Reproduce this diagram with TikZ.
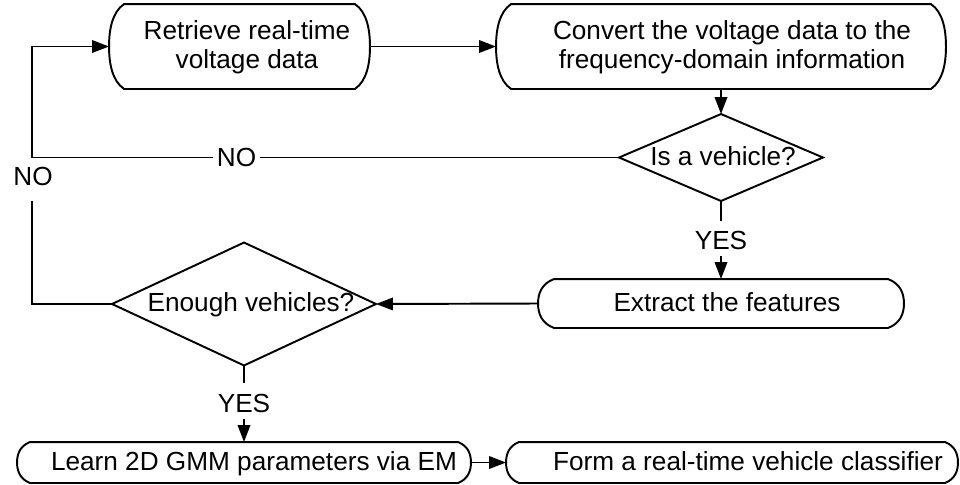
\documentclass[tikz,border=0pt]{standalone}
\usepackage{fontspec}
\setmainfont{Liberation Sans}
\usetikzlibrary{arrows.meta,calc}

% Outline of a terminal box: flat top and bottom, bracket-like curved ends.
% #1 = node name, #2 = horizontal inset of the ends, #3 = box height
\newcommand{\termoutline}[3]{%
  \draw[line join=round]
    ($(#1.north west)+(#2,0)$) -- ($(#1.north east)+(-#2,0)$)
    .. controls ($(#1.north east)+(-0.2*#2,0.1*#3)$) and ($(#1.east)+(0,-0.2*#3)$) .. (#1.east)
    .. controls ($(#1.east)+(0,0.2*#3)$) and ($(#1.south east)+(-0.2*#2,-0.1*#3)$) .. ($(#1.south east)+(-#2,0)$)
    -- ($(#1.south west)+(#2,0)$)
    .. controls ($(#1.south west)+(0.2*#2,-0.1*#3)$) and ($(#1.west)+(0,0.2*#3)$) .. (#1.west)
    .. controls ($(#1.west)+(0,-0.2*#3)$) and ($(#1.north west)+(0.2*#2,0.1*#3)$) .. cycle;}

% Outline of a decision diamond inscribed in its node
\newcommand{\diamondoutline}[1]{%
  \draw (#1.north) -- (#1.east) -- (#1.south) -- (#1.west) -- cycle;}

\begin{document}
\begin{tikzpicture}[x=0.02cm, y=-0.02cm, line width=1.1pt,
  every node/.style={font=\fontsize{14.9}{16.5}\selectfont},
  boxframe/.style 2 args={inner sep=0pt, minimum width={#1*0.02cm}, minimum height={#2*0.02cm}},
  txt/.style={align=center, inner sep=0pt},
  lbl/.style={inner xsep=1.5pt, inner ysep=0pt, anchor=base},
  arr/.style={-{Triangle[length=3.4mm,width=2.5mm]}},
  ]
\useasboundingbox (0,0) rectangle (960,484);

% shape frames
\node[boxframe={259}{83}] (b1) at (239.5,46.5) {};
\node[boxframe={448}{83}] (b2) at (721,46.5) {};
\node[boxframe={202}{85}] (d1) at (721,157.5) {};
\node[boxframe={364}{47}] (e1) at (721,303.5) {};
\node[boxframe={262}{121}] (d2) at (244,304) {};
\node[boxframe={452}{39}] (L) at (244,462.5) {};
\node[boxframe={450}{39}] (F) at (732,462.5) {};

\termoutline{b1}{15}{83}
\termoutline{b2}{15}{83}
\termoutline{e1}{16}{47}
\termoutline{L}{13}{39}
\termoutline{F}{13}{39}
\diamondoutline{d1}
\diamondoutline{d2}

% texts
\node[txt] (t1) at (247,47.5) {Retrieve real-time\\voltage data};
\node[txt] (t2) at (732,47.5) {Convert the voltage data to the\\frequency-domain information};
\node[lbl] (t3) at (723,165) {Is a vehicle?};
\node[lbl] (t4) at (727,311) {Extract the features};
\node[lbl] (t5) at (251,311.5) {Enough vehicles?};
\node[lbl] (t6) at (254,470.5) {Learn 2D GMM parameters via EM};
\node[lbl] (t7) at (748,470.5) {Form a real-time vehicle classifier};

% branch labels
\node[lbl] (noM) at (236.5,166) {NO};
\node[lbl] (noL) at (33,185.5) {NO};
\node[lbl] (yes1) at (721,249) {YES};
\node[lbl] (yes2) at (244,412) {YES};

% free ends of the connectors around the labels
\coordinate (j) at (32,157.5);
\coordinate (jL) at (32,201);
\coordinate (y1a) at (721,221);
\coordinate (y1b) at (721,256);
\coordinate (y2a) at (244,383);
\coordinate (y2b) at (244,419);

% connectors
\draw[arr] (b1.east) -- (b2.west);
\draw[arr] (b2.south) -- (d1.north);
\draw (d1.west) -- (noM.east |- d1.west);
\draw[arr] (noM.west |- d1.west) -- (j) |- (b1.west);
\draw (d1.south) -- (y1a);
\draw[arr] (y1b) -- (e1.north);
\draw[arr] (e1.west) -- (d2.east);
\draw (d2.west) -| (jL);
\draw (d2.south) -- (y2a);
\draw[arr] (y2b) -- (L.north);
\draw[arr] (L.east) -- (F.west);
\end{tikzpicture}
\end{document}
